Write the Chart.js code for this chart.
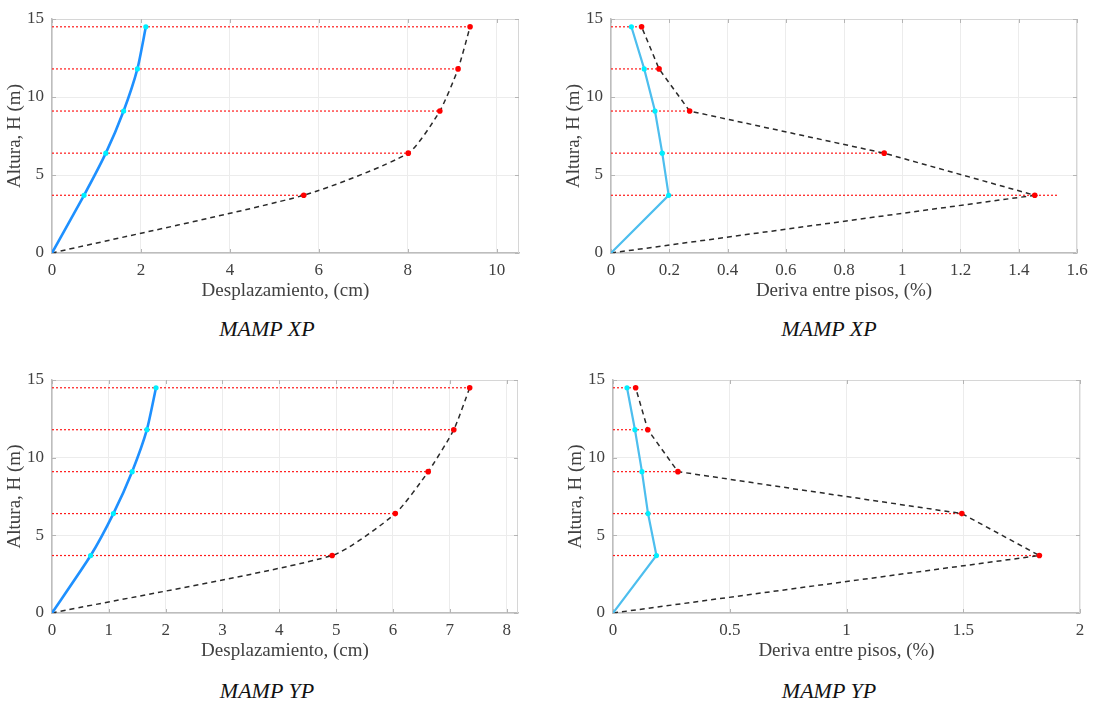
<!DOCTYPE html>
<html>
<head>
<meta charset="utf-8">
<script src="https://cdn.jsdelivr.net/npm/chart.js@4.4.1/dist/chart.umd.min.js"></script>
<style>
  body { margin: 0; background: #fff; width: 1095px; height: 705px; position: relative; overflow: hidden; }
  canvas { position: absolute; }
  .caption {
    position: absolute; width: 200px; text-align: center;
    font-family: 'Liberation Serif', serif; font-style: italic;
    font-size: 22px; line-height: 22px; color: #111;
  }
</style>
</head>
<body>
<canvas id="dispXP"></canvas>
<canvas id="driftXP"></canvas>
<canvas id="dispYP"></canvas>
<canvas id="driftYP"></canvas>
<div class="caption" style="left:167px;top:318px">MAMP XP</div>
<div class="caption" style="left:729px;top:318px">MAMP XP</div>
<div class="caption" style="left:167px;top:680px">MAMP YP</div>
<div class="caption" style="left:729px;top:680px">MAMP YP</div>
<script>
// niveles de piso (m)
const heights = [0, 3.7, 6.4, 9.1, 11.8, 14.5];
const yTicks = [0, 5, 10, 15];

// dirección X
const dispXP_blue = [0, 0.72, 1.21, 1.61, 1.92, 2.11];
const dispXP_black = [0, 5.66, 8.01, 8.72, 9.13, 9.40];
const dispXP_guides = [5.66, 8.01, 8.72, 9.13, 9.40];
const dispXP_ticks = [0, 2, 4, 6, 8, 10];

const driftXP_blue = [0, 0.198, 0.176, 0.151, 0.114, 0.070];
const driftXP_black = [0, 1.455, 0.938, 0.270, 0.165, 0.105];
const driftXP_guides = [1.535, 0.938, 0.275, 0.176, 0.105];
const driftXP_ticks = [0, 0.2, 0.4, 0.6, 0.8, 1, 1.2, 1.4, 1.6];

// dirección Y
const dispYP_blue = [0, 0.68, 1.08, 1.41, 1.67, 1.83];
const dispYP_black = [0, 4.93, 6.04, 6.62, 7.07, 7.35];
const dispYP_guides = [4.93, 6.04, 6.62, 7.07, 7.35];
const dispYP_ticks = [0, 1, 2, 3, 4, 5, 6, 7, 8];

const driftYP_blue = [0, 0.186, 0.150, 0.124, 0.094, 0.060];
const driftYP_black = [0, 1.826, 1.494, 0.278, 0.149, 0.097];
const driftYP_guides = [1.836, 1.494, 0.278, 0.155, 0.097];
const driftYP_ticks = [0, 0.5, 1, 1.5, 2];

const tickFont = { family: "'Liberation Serif', serif", size: 17 };
const titleFont = { family: "'Liberation Serif', serif", size: 19 };
const textColor = '#404040';

// marco superior/derecho y marcas de división hacia adentro
const framePlugin = {
  id: 'frame',
  beforeDatasetsDraw(chart) {
    const { ctx, chartArea: a, scales } = chart;
    ctx.save();
    ctx.strokeStyle = '#d6d6d6';
    ctx.lineWidth = 1;
    ctx.beginPath();
    ctx.moveTo(a.left, a.top + 0.5); ctx.lineTo(a.right, a.top + 0.5);
    ctx.moveTo(a.right - 0.5, a.top); ctx.lineTo(a.right - 0.5, a.bottom);
    ctx.stroke();
    ctx.strokeStyle = '#b5b5b5';
    ctx.beginPath();
    scales.x.ticks.forEach(t => {
      const px = Math.round(scales.x.getPixelForValue(t.value)) + 0.5;
      ctx.moveTo(px, a.bottom); ctx.lineTo(px, a.bottom - 4);
      ctx.moveTo(px, a.top); ctx.lineTo(px, a.top + 4);
    });
    scales.y.ticks.forEach(t => {
      const py = Math.round(scales.y.getPixelForValue(t.value)) + 0.5;
      ctx.moveTo(a.left, py); ctx.lineTo(a.left + 4, py);
      ctx.moveTo(a.right, py); ctx.lineTo(a.right - 4, py);
    });
    ctx.stroke();
    ctx.restore();
  }
};

function panel(id, box, cfg) {
  const padL = 52, padT = 20, padR = 20, padB = 54;
  const cv = document.getElementById(id);
  cv.width = box.right - box.left + padL + padR;
  cv.height = box.bottom - box.top + padT + padB;
  cv.style.left = (box.left - padL) + 'px';
  cv.style.top = (box.top - padT) + 'px';

  const tension = cfg.smooth ? 0.2 : 0;

  const guides = cfg.guides.map((g, i) => ({
    data: [{ x: 0, y: heights[i + 1] }, { x: g, y: heights[i + 1] }],
    borderColor: '#ff1a1a',
    borderWidth: 1.2,
    borderDash: [2, 2],
    pointRadius: 0,
    tension: 0,
    order: 3
  }));

  const black = {
    data: heights.map((h, i) => ({ x: cfg.black[i], y: h })),
    borderColor: '#2a2a2a',
    borderWidth: 1.5,
    borderDash: [5, 4],
    tension: tension,
    pointRadius: c => (c.dataIndex === 0 ? 0 : 2.8),
    pointBackgroundColor: '#ff0000',
    pointBorderWidth: 0,
    order: 2
  };

  const blue = {
    data: heights.map((h, i) => ({ x: cfg.blue[i], y: h })),
    borderColor: cfg.blueColor,
    borderWidth: cfg.blueWidth,
    tension: tension,
    pointRadius: c => (c.dataIndex === 0 ? 0 : 2.6),
    pointBackgroundColor: '#00f0ff',
    pointBorderWidth: 0,
    order: 1
  };

  new Chart(cv, {
    type: 'line',
    data: { datasets: [blue, black, ...guides] },
    options: {
      responsive: false,
      animation: false,
      indexAxis: 'y',
      layout: { padding: { top: padT, right: padR, left: 0, bottom: 0 } },
      plugins: { legend: { display: false }, tooltip: { enabled: false } },
      scales: {
        x: {
          type: 'linear', position: 'bottom', min: 0, max: cfg.xMax,
          afterBuildTicks: s => { s.ticks = cfg.xTicks.map(v => ({ value: v })); },
          afterFit: s => { s.height = padB; },
          grid: { color: '#ececec', drawTicks: false },
          border: { color: '#bdbdbd', width: 1.5 },
          ticks: { padding: 7, color: textColor, font: tickFont, callback: v => String(v) },
          title: { display: true, text: cfg.xTitle, color: textColor, font: titleFont, padding: { top: 2, bottom: 5 } }
        },
        y: {
          type: 'linear', position: 'left', min: 0, max: 15,
          afterBuildTicks: s => { s.ticks = yTicks.map(v => ({ value: v })); },
          afterFit: s => { s.width = padL; },
          grid: { color: '#ececec', drawTicks: false },
          border: { color: '#bdbdbd', width: 1.5 },
          ticks: { padding: 8, color: textColor, font: tickFont, callback: v => String(v) },
          title: { display: true, text: 'Altura, H (m)', color: textColor, font: titleFont, padding: { top: 4, bottom: 4 } }
        }
      }
    },
    plugins: [framePlugin]
  });
}

panel('dispXP', { left: 52, top: 19, right: 519, bottom: 253 }, {
  blue: dispXP_blue, black: dispXP_black, guides: dispXP_guides,
  xTicks: dispXP_ticks, xMax: 10.5, smooth: true,
  blueColor: '#1e90ff', blueWidth: 2.6, xTitle: 'Desplazamiento, (cm)'
});

panel('driftXP', { left: 611, top: 19, right: 1077, bottom: 253 }, {
  blue: driftXP_blue, black: driftXP_black, guides: driftXP_guides,
  xTicks: driftXP_ticks, xMax: 1.6, smooth: false,
  blueColor: '#4dbeee', blueWidth: 2.2, xTitle: 'Deriva entre pisos, (%)'
});

panel('dispYP', { left: 52, top: 380, right: 518, bottom: 613 }, {
  blue: dispYP_blue, black: dispYP_black, guides: dispYP_guides,
  xTicks: dispYP_ticks, xMax: 8.2, smooth: true,
  blueColor: '#1e90ff', blueWidth: 2.6, xTitle: 'Desplazamiento, (cm)'
});

panel('driftYP', { left: 613, top: 380, right: 1080, bottom: 613 }, {
  blue: driftYP_blue, black: driftYP_black, guides: driftYP_guides,
  xTicks: driftYP_ticks, xMax: 2, smooth: false,
  blueColor: '#4dbeee', blueWidth: 2.2, xTitle: 'Deriva entre pisos, (%)'
});
</script>
</body>
</html>
